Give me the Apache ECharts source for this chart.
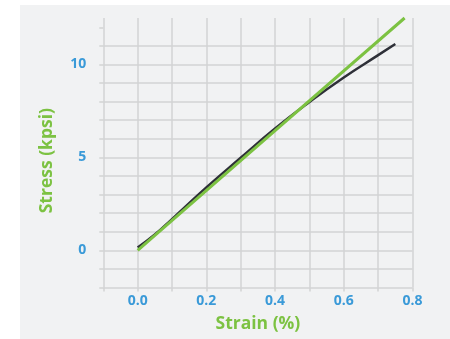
<!DOCTYPE html>
<html><head><meta charset="utf-8">
<script src="https://cdn.jsdelivr.net/npm/echarts@6/dist/echarts.min.js"></script>
<style>html,body{margin:0;padding:0;background:#fff}#c{position:absolute;left:20px;top:5px;width:430px;height:334px;background:#f1f2f3}</style>
</head><body><div id="c"></div>
<script>
const strainMeasured = [0, 0.05, 0.1, 0.2, 0.3, 0.4, 0.5, 0.6, 0.7, 0.75];
const stressMeasured = [0.15, 0.85, 1.68, 3.38, 4.98, 6.55, 7.98, 9.3, 10.5, 11.1];
const strainModel = [0, 0.4, 0.777];
const stressModel = [0, 6.44, 12.5];
const xTicks = [0.0, 0.2, 0.4, 0.6, 0.8];
const yTicks = [0, 5, 10];
const yGridValues = [-2, -1, 0, 1, 2, 3, 4, 5, 6, 7, 8, 9, 10, 11, 12];
const xTitle = 'Strain (%)';
const yTitle = 'Stress (kpsi)';

const chart = echarts.init(document.getElementById('c'), null, {renderer:'canvas'});
const grid = '#d2d3d4';
const blue = '#3a9ad8';
const green = '#7cc242';
const font = '"Open Sans", "Noto Sans", sans-serif';
chart.setOption({
  animation:false,
  backgroundColor:'#f1f2f3',
  grid:{left:83.3, right:37.5, top:13, bottom:51.5},
  xAxis:{type:'value', min:-0.1, max:0.8, interval:0.1,
    axisLine:{show:false, onZero:false},
    axisTick:{show:true, length:4, lineStyle:{color:grid, width:1.5}},
    splitLine:{show:true, lineStyle:{color:grid, width:1.5}},
    axisLabel:{color:blue, fontWeight:'bold', fontSize:14, fontFamily:font, margin:7,
      formatter:v=>{const m=xTicks.find(t=>Math.abs(t-v)<1e-6);return m===undefined?'':m.toFixed(1);}},
    name:xTitle, nameLocation:'middle', nameGap:28,
    nameTextStyle:{color:green, fontWeight:'bold', fontSize:17.5, fontFamily:font}
  },
  yAxis:{type:'value', min:-2, max:12.5, interval:1,
    axisLine:{show:false, onZero:false},
    axisTick:{show:true, length:4, customValues:yGridValues, lineStyle:{color:grid, width:1.5}},
    splitLine:{show:true, showMaxLine:false, lineStyle:{color:grid, width:1.5}},
    axisLabel:{color:blue, fontWeight:'bold', fontSize:14, fontFamily:font, margin:17,
      customValues:yTicks, formatter:v=>String(v)}
  },
  graphic:[{type:'text', left:18, top:103, rotation:Math.PI/2,
    style:{text:yTitle, fill:green, font:'bold 17.5px '+font}}],
  series:[
    {type:'line', data:strainMeasured.map((x,i)=>[x,stressMeasured[i]]), smooth:true, symbol:'none', clip:false,
      lineStyle:{color:'#2e3038', width:2.5}, z:2},
    {type:'line', data:strainModel.map((x,i)=>[x,stressModel[i]]), symbol:'none', clip:false,
      lineStyle:{color:green, width:3}, z:3}
  ]
});
</script></body></html>
